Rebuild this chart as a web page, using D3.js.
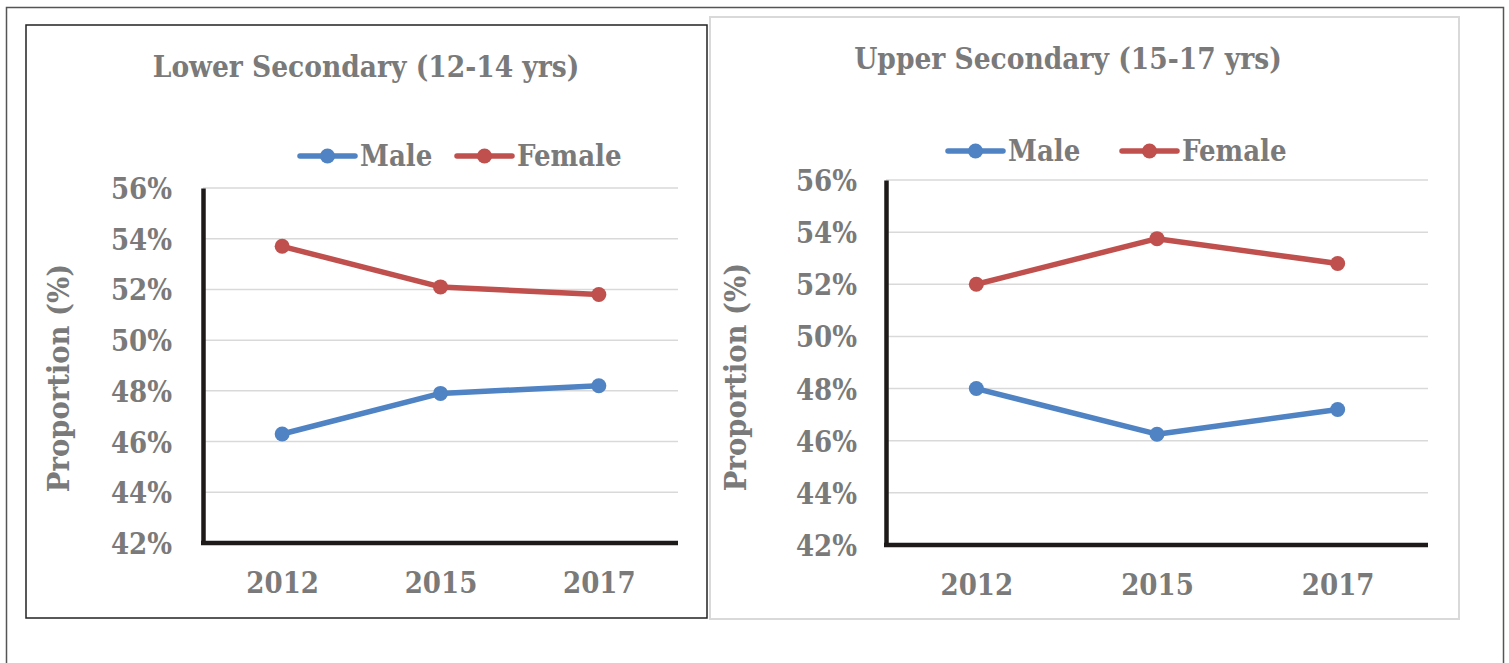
<!DOCTYPE html>
<html>
<head>
<meta charset="utf-8">
<script src="https://cdn.jsdelivr.net/npm/d3@7"></script>
<style>
  body { margin: 0; background: #fff; }
  text { font-family: "DejaVu Serif Condensed", "DejaVu Serif", serif; font-weight: bold; font-stretch: condensed; fill: #7a7a7a; }
</style>
</head>
<body>
<div id="chart"></div>
<script>
// data
var years = ["2012", "2015", "2017"];
var yTicks = [42, 44, 46, 48, 50, 52, 54, 56];
var seriesNames = ["Male", "Female"];
var seriesColors = ["#4f83c3", "#bf504d"];
var lowerMale = [46.3, 47.9, 48.2];
var lowerFemale = [53.7, 52.1, 51.8];
var upperMale = [48.0, 46.25, 47.2];
var upperFemale = [52.0, 53.75, 52.8];

var svg = d3.select("#chart").append("svg")
  .attr("width", 1509)
  .attr("height", 663);

// page frame
svg.append("rect").attr("x", 6.5).attr("y", 7.5).attr("width", 1497).attr("height", 700)
  .attr("fill", "none").attr("stroke", "#555").attr("stroke-width", 1.5);
// left panel frame
svg.append("rect").attr("x", 26).attr("y", 25).attr("width", 681).attr("height", 593)
  .attr("fill", "none").attr("stroke", "#222").attr("stroke-width", 1.5);
// right panel frame
svg.append("rect").attr("x", 710).attr("y", 17).attr("width", 749).attr("height", 602)
  .attr("fill", "none").attr("stroke", "#d9d9d9").attr("stroke-width", 2);

function drawPanel(p) {
  var g = svg.append("g");
  var x = d3.scalePoint().domain(years).range([p.left, p.right]).padding(0.5);
  var y = d3.scaleLinear().domain([42, 56]).range([p.bottom, p.top]);

  // gridlines
  g.selectAll(".grid").data(yTicks.slice(1)).enter().append("line")
    .attr("x1", p.left).attr("x2", p.right)
    .attr("y1", function (d) { return y(d); }).attr("y2", function (d) { return y(d); })
    .attr("stroke", "#d9d9d9").attr("stroke-width", 1.5);

  // y axis
  var ya = g.append("g").attr("transform", "translate(" + p.left + ",0)")
    .call(d3.axisLeft(y).tickValues(yTicks).tickSize(0).tickSizeOuter(0).tickPadding(p.tickPad)
      .tickFormat(function (d) { return d + "%"; }));
  ya.select(".domain").attr("stroke", "#1e1a1a").attr("stroke-width", 4.5);
  ya.selectAll("text").style("font-size", "29px").attr("dy", "0.36em").attr("fill", null);

  // x axis
  var xa = g.append("g").attr("transform", "translate(0," + p.bottom + ")")
    .call(d3.axisBottom(x).tickSize(0).tickSizeOuter(0));
  xa.select(".domain").attr("stroke", "#1e1a1a").attr("stroke-width", 4.5)
    .attr("d", "M" + (p.left - 2) + ",0H" + p.right);
  xa.selectAll("text").style("font-size", "29px").attr("dy", null).attr("y", 50).attr("fill", null);

  // lines
  var line = d3.line().x(function (d, i) { return x(years[i]); }).y(function (d) { return y(d); });
  p.series.forEach(function (vals, k) {
    g.append("path").datum(vals).attr("d", line)
      .attr("fill", "none").attr("stroke", seriesColors[k]).attr("stroke-width", 5.5)
      .attr("stroke-linejoin", "round");
    g.selectAll(".pt" + k).data(vals).enter().append("circle")
      .attr("cx", function (d, i) { return x(years[i]); })
      .attr("cy", function (d) { return y(d); })
      .attr("r", 7.5).attr("fill", seriesColors[k]);
  });

  // title
  g.append("text").attr("x", p.titleX).attr("y", p.titleY).attr("text-anchor", "middle")
    .style("font-size", "29.5px").text(p.title);

  // y axis title
  g.append("text").attr("transform", "translate(" + p.yTitleX + "," + p.yTitleY + ") rotate(-90)")
    .attr("text-anchor", "middle").style("font-size", "30.5px").text("Proportion (%)");

  // legend
  seriesNames.forEach(function (name, k) {
    var lx = p.legendX[k];
    g.append("line").attr("x1", lx).attr("x2", lx + 55).attr("y1", p.legendY).attr("y2", p.legendY)
      .attr("stroke", seriesColors[k]).attr("stroke-width", 5.5).attr("stroke-linecap", "round");
    g.append("circle").attr("cx", lx + 27.5).attr("cy", p.legendY).attr("r", 7.5).attr("fill", seriesColors[k]);
    g.append("text").attr("x", lx + 60).attr("y", p.legendY).attr("dy", "0.36em")
      .style("font-size", "29px").text(name);
  });
}

drawPanel({
  left: 203, right: 678, top: 188, bottom: 543, tickPad: 31,
  title: "Lower Secondary (12-14 yrs)", titleX: 366, titleY: 77,
  yTitleX: 69, yTitleY: 378, legendX: [300, 457], legendY: 156,
  series: [lowerMale, lowerFemale]
});

drawPanel({
  left: 886, right: 1428, top: 180, bottom: 545, tickPad: 29,
  title: "Upper Secondary (15-17 yrs)", titleX: 1068, titleY: 69,
  yTitleX: 746, yTitleY: 377, legendX: [948, 1122], legendY: 151,
  series: [upperMale, upperFemale]
});
</script>
</body>
</html>
